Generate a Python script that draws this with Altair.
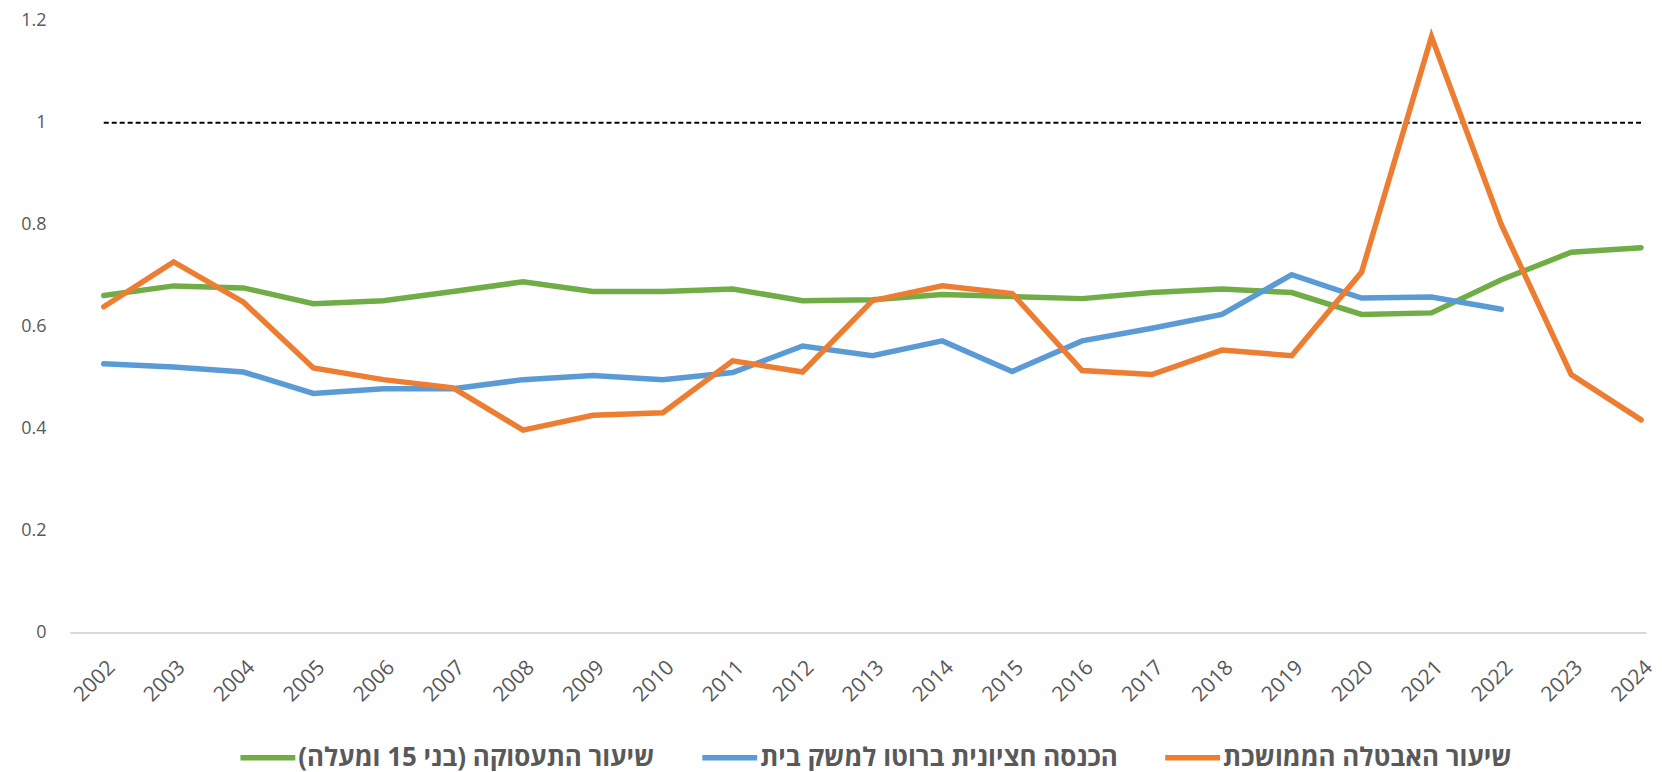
import altair as alt
import pandas as pd

years = list(range(2002, 2025))
income_years = list(range(2002, 2023))

series_names = [
    "שיעור התעסוקה (בני 15 ומעלה)",
    "הכנסה חציונית ברוטו למשק בית",
    "שיעור האבטלה הממושכת",
]
series_colors = ["#70AD47", "#5B9BD5", "#ED7D31"]

employment = [0.661, 0.680, 0.676, 0.645, 0.651, 0.669, 0.688, 0.669, 0.669, 0.674,
              0.651, 0.653, 0.663, 0.659, 0.655, 0.667, 0.674, 0.667, 0.624, 0.627,
              0.692, 0.746, 0.755]
income = [0.527, 0.521, 0.511, 0.469, 0.478, 0.478, 0.496, 0.504, 0.496, 0.510,
          0.562, 0.543, 0.572, 0.512, 0.572, 0.597, 0.624, 0.702, 0.656, 0.658,
          0.634]
unemployment = [0.639, 0.727, 0.648, 0.519, 0.496, 0.480, 0.397, 0.426, 0.431, 0.533,
                0.511, 0.651, 0.680, 0.665, 0.514, 0.506, 0.554, 0.543, 0.707, 1.169,
                0.800, 0.506, 0.417]

y_ticks = [0, 0.2, 0.4, 0.6, 0.8, 1.0, 1.2]
ref_level = 1.0

rows = []
for name, xs, vals in [
    (series_names[0], years, employment),
    (series_names[1], income_years, income),
    (series_names[2], years, unemployment),
]:
    for x, v in zip(xs, vals):
        rows.append({"year": x, "value": v, "series": name})
df = pd.DataFrame(rows)
ref_df = pd.DataFrame({"x": [years[0]], "x2": [years[-1]], "y": [ref_level]})

FONT = "Open Sans"
GRAY = "#595959"

x_scale = alt.Scale(domain=[2001.515, 2024.07], nice=False, zero=False)
y_scale = alt.Scale(domain=[0, 1.2], nice=False)

x_axis = alt.Axis(values=years, format="d", labelAngle=-45, labelFontSize=21,
                  labelColor=GRAY, labelFont=FONT, domainColor="#D9D9D9",
                  domainWidth=2, ticks=False, grid=False, labelPadding=24,
                  title=None, labelOverlap=False, labelFlush=False)
y_axis = alt.Axis(values=y_ticks, format=".1~f", domain=False, ticks=False,
                  grid=False, labelFontSize=18, labelColor=GRAY, labelFont=FONT,
                  labelPadding=24, title=None)

color_scale = alt.Scale(domain=series_names, range=series_colors)
legend = alt.Legend(
    title=None, orient="none", legendX=168, legendY=708, direction="horizontal",
    symbolType="stroke", symbolStrokeWidth=5.5, symbolSize=3025,
    labelFont=FONT, labelFontSize=26, labelFontWeight="bold", labelColor=GRAY,
    labelLimit=0, labelOffset=0, columnPadding=36,
    labelExpr="'\u200f' + datum.label + '\u200f'",
)

ref = alt.Chart(ref_df).mark_rule(color="black", strokeWidth=2, strokeDash=[5, 3]).encode(
    x=alt.X("x:Q", scale=x_scale, axis=x_axis),
    x2="x2:Q",
    y=alt.Y("y:Q", scale=y_scale, axis=y_axis),
)

layers = [ref]
for name in series_names:
    layers.append(
        alt.Chart(df[df.series == name]).mark_line(strokeWidth=5.5, strokeCap="round").encode(
            x=alt.X("year:Q", scale=x_scale, axis=x_axis),
            y=alt.Y("value:Q", scale=y_scale, axis=y_axis),
            color=alt.Color("series:N", scale=color_scale, legend=legend),
        )
    )

chart = alt.layer(*layers).properties(
    width=1580, height=613,
    autosize=alt.AutoSizeParams(type="none"),
    padding={"left": 62, "top": 12, "right": 8, "bottom": 138},
).configure_view(stroke=None)

chart.save("out.html", embed_options={"renderer": "svg", "actions": False})
